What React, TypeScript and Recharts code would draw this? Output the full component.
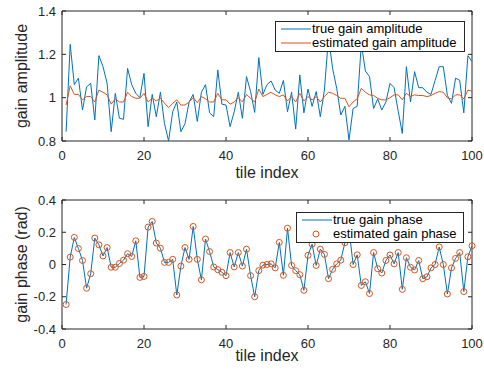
import React from "react";
import {
  LineChart,
  Line,
  XAxis,
  YAxis,
  ReferenceArea,
  Legend,
} from "recharts";

// tile index 1..100
const tileIndex = Array.from({ length: 100 }, (_, i) => i + 1);

const trueAmp = [
  0.843, 1.246, 1.06, 1.09, 0.943, 1.05, 1.066, 0.897, 1.194, 1.143,
  1.066, 0.843, 1.02, 0.905, 0.9, 1.135, 1.06, 1.02, 1.0, 1.112,
  0.866, 1.015, 0.912, 1.025, 0.88, 0.8, 0.935, 0.98, 0.843, 0.88,
  0.98, 1.015, 0.89, 1.025, 1.06, 0.93, 0.912, 1.128, 0.97, 0.966,
  0.866, 0.935, 1.025, 0.905, 1.097, 1.028, 0.932, 1.185, 1.015, 1.06,
  1.077, 1.035, 1.02, 1.08, 0.935, 1.025, 0.855, 1.105, 0.93, 1.04,
  0.96, 1.028, 0.912, 1.035, 1.28, 1.135, 1.043, 0.92, 0.96, 0.805,
  0.95, 0.96, 1.25, 1.123, 1.097, 0.95, 0.994, 0.943, 0.98, 1.066,
  1.046, 0.938, 0.835, 1.143, 0.98, 1.12, 1.046, 1.046, 1.025, 1.015,
  1.08, 1.143, 1.143, 1.01, 0.974, 1.09, 1.08, 0.93, 1.194, 1.166,
];

const estAmp = [
  0.966, 1.055, 1.015, 1.015, 0.99, 1.005, 1.005, 0.98, 1.035, 1.025,
  1.013, 0.97, 0.995, 0.98, 0.98, 1.025, 1.005, 0.997, 0.997, 1.02,
  0.98, 0.997, 0.985, 0.997, 0.975, 0.954, 0.974, 0.99, 0.966, 0.966,
  0.98, 1.0, 0.977, 1.005, 0.995, 0.98, 0.98, 1.02, 0.99, 0.99,
  0.97, 0.98, 1.0, 0.98, 1.015, 0.997, 0.98, 1.04, 1.005, 1.015,
  1.025, 1.013, 1.005, 1.013, 0.985, 1.005, 0.98, 1.02, 0.985, 1.005,
  0.99, 1.005, 0.98, 1.005, 1.025, 1.02, 1.01, 0.997, 0.997, 0.958,
  0.98, 0.995, 1.043, 1.025, 1.013, 1.01, 0.997, 0.99, 0.99, 1.0,
  1.013, 1.013, 0.99, 1.02, 1.005, 1.013, 1.01, 1.01, 1.005, 1.01,
  1.02, 1.028, 1.025, 1.0, 0.994, 1.013, 1.013, 0.994, 1.035, 1.03,
];

const truePhase = [
  -0.248, 0.046, 0.168, 0.099, 0.025, -0.147, -0.057, 0.164, 0.122, 0.053,
  0.105, -0.017, -0.017, 0.006, 0.027, 0.067, 0.05, 0.147, -0.08, -0.074,
  0.232, 0.267, 0.133, 0.101, 0.013, 0.013, 0.032, -0.189, -0.01, 0.105,
  0.032, 0.236, 0.032, -0.095, 0.158, 0.08, -0.015, -0.032, -0.048, -0.069,
  0.074, -0.015, 0.074, -0.01, 0.095, -0.069, -0.2, -0.038, -0.004, 0.0,
  0.004, -0.021, 0.137, -0.067, 0.225, -0.006, -0.038, -0.063, -0.16, 0.057,
  0.126, -0.006, 0.095, 0.063, -0.088, -0.03, 0.004, 0.027, 0.135, 0.22,
  0.0, 0.06, -0.13, -0.107, -0.18, 0.074, -0.026, -0.053, 0.025, 0.059,
  0.004, 0.074, -0.154, 0.042, -0.017, -0.034, 0.025, -0.088, -0.076, -0.021,
  0.0, 0.109, 0.0, -0.183, -0.021, 0.038, 0.074, -0.168, 0.048, 0.116,
];

const estPhase = [
  -0.248, 0.046, 0.168, 0.099, 0.025, -0.147, -0.057, 0.164, 0.122, 0.053,
  0.105, -0.017, -0.017, 0.006, 0.027, 0.067, 0.05, 0.147, -0.08, -0.074,
  0.232, 0.267, 0.133, 0.101, 0.013, 0.013, 0.032, -0.189, -0.01, 0.105,
  0.032, 0.236, 0.032, -0.095, 0.158, 0.08, -0.015, -0.032, -0.048, -0.069,
  0.074, -0.015, 0.074, -0.01, 0.095, -0.069, -0.2, -0.038, -0.004, 0.0,
  0.004, -0.021, 0.137, -0.067, 0.225, -0.006, -0.038, -0.063, -0.16, 0.057,
  0.126, -0.006, 0.095, 0.063, -0.088, -0.03, 0.004, 0.027, 0.135, 0.22,
  0.0, 0.06, -0.13, -0.107, -0.18, 0.074, -0.026, -0.053, 0.025, 0.059,
  0.004, 0.074, -0.154, 0.042, -0.017, -0.034, 0.025, -0.088, -0.076, -0.021,
  0.0, 0.109, 0.0, -0.183, -0.021, 0.038, 0.074, -0.168, 0.048, 0.116,
];

const xTicks = [0, 20, 40, 60, 80, 100];
const ampTicks = [0.8, 1, 1.2, 1.4];
const phaseTicks = [-0.4, -0.2, 0, 0.2, 0.4];

const BLUE = "#0072BD";
const ORANGE = "#D95319";
const AXIS = "#262626";
const FONT = '"Liberation Sans", Arial, Helvetica, sans-serif';

const W = 484;
const H = 185;
const LEFT = 62;
const RIGHT = 472;
const TICK_LEN = 4;

const ampData = tileIndex.map((t, i) => ({
  t,
  trueAmp: trueAmp[i],
  estAmp: estAmp[i],
}));
const phaseData = tileIndex.map((t, i) => ({
  t,
  truePhase: truePhase[i],
  estPhase: estPhase[i],
}));

// MATLAB-style ticks: pointing inwards on both sides of the box
const makeXTick = (top: number, bottom: number) => (props: any) => {
  const { x, payload } = props;
  return (
    <g>
      <line x1={x} x2={x} y1={bottom} y2={bottom - TICK_LEN} stroke={AXIS} />
      <line x1={x} x2={x} y1={top} y2={top + TICK_LEN} stroke={AXIS} />
      <text
        x={x}
        y={bottom + 19}
        textAnchor="middle"
        fontSize={13}
        fontFamily={FONT}
        fill={AXIS}
      >
        {payload.value}
      </text>
    </g>
  );
};

const makeYTick = () => (props: any) => {
  const { y, payload } = props;
  return (
    <g>
      <line x1={LEFT} x2={LEFT + TICK_LEN} y1={y} y2={y} stroke={AXIS} />
      <line x1={RIGHT} x2={RIGHT - TICK_LEN} y1={y} y2={y} stroke={AXIS} />
      <text
        x={LEFT - 6}
        y={y + 4.5}
        textAnchor="end"
        fontSize={13}
        fontFamily={FONT}
        fill={AXIS}
      >
        {payload.value}
      </text>
    </g>
  );
};

const XTitle = ({ y }: { y: number }) => (
  <text
    x={(LEFT + RIGHT) / 2}
    y={y}
    textAnchor="middle"
    fontSize={16}
    fontFamily={FONT}
    fill={AXIS}
  >
    tile index
  </text>
);

const YTitle = ({ cy, text }: { cy: number; text: string }) => (
  <text
    x={27}
    y={cy}
    transform={`rotate(-90, 27, ${cy})`}
    textAnchor="middle"
    fontSize={16}
    fontFamily={FONT}
    fill={AXIS}
  >
    {text}
  </text>
);

type Entry = { label: string; kind: "line" | "circle"; color: string };

const makeLegend = (entries: Entry[]) => () => (
  <div
    style={{
      background: "#fff",
      border: `1px solid ${AXIS}`,
      fontFamily: FONT,
      fontSize: 13,
      lineHeight: "14px",
      color: "#000",
      paddingTop: 0,
      boxSizing: "border-box",
      height: "100%",
    }}
  >
    {entries.map((e) => (
      <div
        key={e.label}
        style={{ display: "flex", alignItems: "center", height: 14, whiteSpace: "nowrap" }}
      >
        <svg width={36} height={14} style={{ flex: "none" }}>
          {e.kind === "line" ? (
            <line x1={5} x2={35} y1={7} y2={7} stroke={e.color} />
          ) : (
            <circle cx={19} cy={7} r={3} stroke={e.color} fill="none" />
          )}
        </svg>
        <span>{e.label}</span>
      </div>
    ))}
  </div>
);

const AmpLegend = makeLegend([
  { label: "true gain amplitude", kind: "line", color: BLUE },
  { label: "estimated gain amplitude", kind: "line", color: ORANGE },
]);
const PhaseLegend = makeLegend([
  { label: "true gain phase", kind: "line", color: BLUE },
  { label: "estimated gain phase", kind: "circle", color: ORANGE },
]);

export default function App() {
  const topPlotTop = 11;
  const topPlotBottom = 141;
  const botPlotTop = 15;
  const botPlotBottom = 144;

  return (
    <div
      style={{
        position: "absolute",
        left: 0,
        top: 0,
        width: W,
        height: 370,
        background: "#fff",
      }}
    >
      <LineChart
        width={W}
        height={H}
        data={ampData}
        margin={{ top: topPlotTop, right: W - RIGHT, left: 0, bottom: 0 }}
      >
        <XAxis
          dataKey="t"
          type="number"
          domain={[0, 100]}
          ticks={xTicks}
          height={H - topPlotBottom}
          axisLine={false}
          tickLine={false}
          tick={makeXTick(topPlotTop, topPlotBottom)}
          interval={0}
        />
        <YAxis
          type="number"
          domain={[0.8, 1.4]}
          ticks={ampTicks}
          width={LEFT}
          axisLine={false}
          tickLine={false}
          tick={makeYTick()}
          interval={0}
          allowDataOverflow
        />
        <ReferenceArea
          x1={0}
          x2={100}
          y1={0.8}
          y2={1.4}
          fill="none"
          stroke={AXIS}
          strokeWidth={1}
        />
        <Line
          dataKey="trueAmp"
          stroke={BLUE}
          strokeWidth={1}
          dot={false}
          activeDot={false}
          isAnimationActive={false}
        />
        <Line
          dataKey="estAmp"
          stroke={ORANGE}
          strokeWidth={1}
          dot={false}
          activeDot={false}
          isAnimationActive={false}
        />
        <Legend
          layout="vertical"
          align="center"
          verticalAlign="middle"
          content={AmpLegend}
          wrapperStyle={{ left: 275, top: 21, width: 190, height: 31 }}
        />
        <XTitle y={178} />
        <YTitle cy={(topPlotTop + topPlotBottom) / 2} text="gain amplitude" />
      </LineChart>

      <LineChart
        width={W}
        height={H}
        data={phaseData}
        margin={{ top: botPlotTop, right: W - RIGHT, left: 0, bottom: 0 }}
      >
        <XAxis
          dataKey="t"
          type="number"
          domain={[0, 100]}
          ticks={xTicks}
          height={H - botPlotBottom}
          axisLine={false}
          tickLine={false}
          tick={makeXTick(botPlotTop, botPlotBottom)}
          interval={0}
        />
        <YAxis
          type="number"
          domain={[-0.4, 0.4]}
          ticks={phaseTicks}
          width={LEFT}
          axisLine={false}
          tickLine={false}
          tick={makeYTick()}
          interval={0}
          allowDataOverflow
        />
        <ReferenceArea
          x1={0}
          x2={100}
          y1={-0.4}
          y2={0.4}
          fill="none"
          stroke={AXIS}
          strokeWidth={1}
        />
        <Line
          dataKey="truePhase"
          stroke={BLUE}
          strokeWidth={1}
          dot={false}
          activeDot={false}
          isAnimationActive={false}
        />
        <Line
          dataKey="estPhase"
          stroke="none"
          dot={{ r: 3, stroke: ORANGE, strokeWidth: 1, fill: "none" }}
          activeDot={false}
          isAnimationActive={false}
        />
        <Legend
          layout="vertical"
          align="center"
          verticalAlign="middle"
          content={PhaseLegend}
          wrapperStyle={{ left: 296, top: 27, width: 168, height: 31 }}
        />
        <XTitle y={176} />
        <YTitle cy={(botPlotTop + botPlotBottom) / 2} text="gain phase (rad)" />
      </LineChart>
    </div>
  );
}
